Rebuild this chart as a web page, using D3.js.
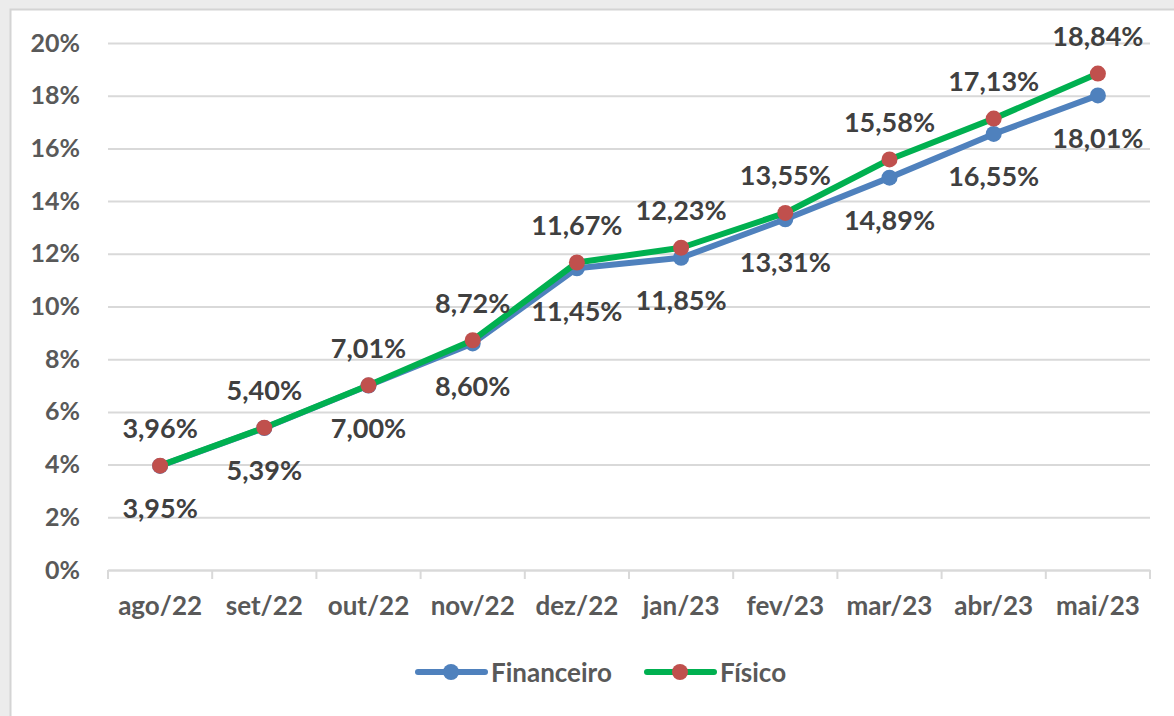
<!DOCTYPE html>
<html>
<head>
<meta charset="utf-8">
<script src="https://cdn.jsdelivr.net/npm/d3@7"></script>
<style>
  body { margin: 0; background: #ececec; }
  text { font-family: Lato, "Open Sans", sans-serif; font-weight: bold; }
</style>
</head>
<body>
<svg width="1174" height="716"></svg>
<script>
  // data
  const months = ["ago/22", "set/22", "out/22", "nov/22", "dez/22", "jan/23", "fev/23", "mar/23", "abr/23", "mai/23"];
  const financeiro = [3.95, 5.39, 7.00, 8.60, 11.45, 11.85, 13.31, 14.89, 16.55, 18.01];
  const fisico = [3.96, 5.40, 7.01, 8.72, 11.67, 12.23, 13.55, 15.58, 17.13, 18.84];
  const yTicks = [0, 2, 4, 6, 8, 10, 12, 14, 16, 18, 20];

  const svg = d3.select("svg");
  const fmt = v => v.toFixed(2).replace(".", ",") + "%";

  // white chart panel
  svg.append("rect")
    .attr("x", 10.5).attr("y", 9.5)
    .attr("width", 1170).attr("height", 720)
    .attr("fill", "#fff")
    .attr("stroke", "#d4d4d4")
    .attr("stroke-width", 2);

  const x = d3.scaleBand().domain(months).range([108, 1150]).padding(0);
  const y = d3.scaleLinear().domain([0, 20]).range([570, 43]);

  // gridlines + y labels
  const yAxis = svg.append("g")
    .attr("transform", "translate(108,0)")
    .call(d3.axisLeft(y).tickValues(yTicks).tickSize(-1042).tickPadding(28).tickFormat(d => d + "%"));
  yAxis.select(".domain").remove();
  yAxis.selectAll("line").attr("stroke", "#d9d9d9").attr("stroke-width", 2);
  yAxis.selectAll("text").attr("fill", "#595959").style("font-size", "25px");

  // x axis
  const xAxis = svg.append("g")
    .attr("transform", "translate(0,570)")
    .call(d3.axisBottom(x).tickSize(0).tickPadding(27));
  xAxis.select(".domain").attr("stroke", "#d9d9d9").attr("stroke-width", 2);
  xAxis.selectAll("text").attr("fill", "#595959").style("font-size", "26px");

  // tick marks between categories
  const edges = months.map(m => x(m)).concat([x.range()[1]]);
  svg.append("g").selectAll("line")
    .data(edges)
    .join("line")
    .attr("x1", d => d).attr("x2", d => d)
    .attr("y1", 570).attr("y2", 579)
    .attr("stroke", "#d9d9d9")
    .attr("stroke-width", 2);

  const cx = (d, i) => x(months[i]) + x.bandwidth() / 2;

  function drawSeries(values, lineColor, dotColor) {
    const line = d3.line().x(cx).y(d => y(d));
    svg.append("path")
      .datum(values)
      .attr("d", line)
      .attr("fill", "none")
      .attr("stroke", lineColor)
      .attr("stroke-width", 6)
      .attr("stroke-linejoin", "round")
      .attr("stroke-linecap", "round");
    svg.append("g").selectAll("circle")
      .data(values)
      .join("circle")
      .attr("cx", cx)
      .attr("cy", d => y(d))
      .attr("r", 8)
      .attr("fill", dotColor);
  }

  drawSeries(financeiro, "#4f81bd", "#4f81bd");
  drawSeries(fisico, "#00b050", "#c0504d");

  // data labels: Físico above, Financeiro below
  function drawLabels(values, dy) {
    svg.append("g").selectAll("text")
      .data(values)
      .join("text")
      .attr("x", cx)
      .attr("y", d => y(d) + dy)
      .attr("text-anchor", "middle")
      .attr("dominant-baseline", "central")
      .attr("fill", "#404040")
      .style("font-size", "27px")
      .text(fmt);
  }
  drawLabels(fisico, -38);
  drawLabels(financeiro, 42);

  // legend
  const legend = [
    { name: "Financeiro", line: "#4f81bd", dot: "#4f81bd", x: 418 },
    { name: "Físico", line: "#00b050", dot: "#c0504d", x: 647 }
  ];
  const lg = svg.append("g").selectAll("g")
    .data(legend)
    .join("g")
    .attr("transform", d => "translate(" + d.x + ",672)");
  lg.append("line")
    .attr("x1", 0).attr("x2", 67)
    .attr("stroke", d => d.line)
    .attr("stroke-width", 6)
    .attr("stroke-linecap", "round");
  lg.append("circle")
    .attr("cx", 33).attr("r", 8)
    .attr("fill", d => d.dot);
  lg.append("text")
    .attr("x", 73)
    .attr("dominant-baseline", "central")
    .attr("fill", "#595959")
    .style("font-size", "26px")
    .text(d => d.name);
</script>
</body>
</html>
